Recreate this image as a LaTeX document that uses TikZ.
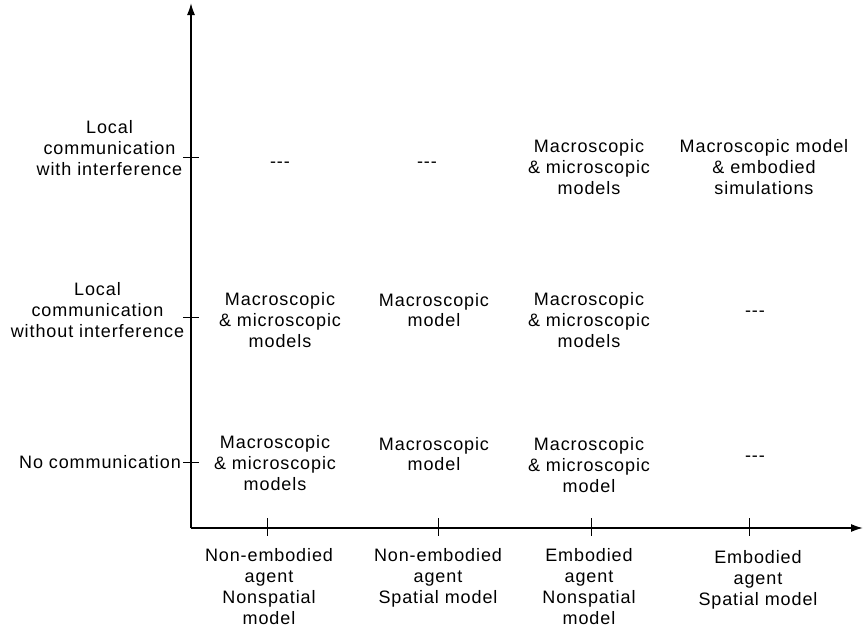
\documentclass[tikz,border=0pt]{standalone}
\usepackage{fontspec}
\setmainfont[LetterSpace=5]{Liberation Sans}
\usetikzlibrary{arrows.meta}
\begin{document}
\begin{tikzpicture}[x=1pt,y=-1pt,
  axis/.style={line width=1.6pt,-{Latex[length=12pt,width=8pt]}},
  tick/.style={line width=1pt},
  cell/.style={align=center,inner sep=0pt,font=\fontsize{18}{20.8}\selectfont},
  lab/.style={cell}]
\useasboundingbox (0,0) rectangle (863,630);
% axes
\coordinate (O) at (191,528);
\coordinate (Ytop) at (191,3);
\coordinate (Xend) at (863,528);
\draw[axis] (O) -- (Ytop);
\draw[axis] (O) -- (Xend);
% y ticks
\foreach \n/\y in {t1/157,t2/317,t3/462}{
  \coordinate (\n a) at (183,\y);
  \coordinate (\n b) at (199,\y);
  \draw[tick] (\n a) -- (\n b);
}
% x ticks
\foreach \n/\x in {u1/267,u2/438,u3/591,u4/749}{
  \coordinate (\n a) at (\x,518);
  \coordinate (\n b) at (\x,536);
  \draw[tick] (\n a) -- (\n b);
}
% row labels
\node[lab] (r1) at (109.5,148) {Local\\communication\\with interference};
\node[lab] (r2) at (97.5,310) {Local\\communication\\without interference};
\node[lab,anchor=east] (r3) at (181,462) {No communication};
% column labels
\node[lab,anchor=north] (k1) at (269,548.5) {Non-embodied\\agent\\Nonspatial\\model};
\node[lab,anchor=north] (k2) at (438,548.5) {Non-embodied\\agent\\Spatial model};
\node[lab,anchor=north] (k3) at (589,548.5) {Embodied\\agent\\Nonspatial\\model};
\node[lab,anchor=north] (k4) at (758,550.5) {Embodied\\agent\\Spatial model};
% cells: top row
\node[cell] (c11) at (280,164.5) {-{}-{}-};
\node[cell] (c12) at (427,164.5) {-{}-{}-};
\node[cell] (c13) at (589,167) {Macroscopic\\\& microscopic\\models};
\node[cell] (c14) at (764,167) {Macroscopic model\\\& embodied\\simulations};
% cells: middle row
\node[cell] (c21) at (280,320) {Macroscopic\\\& microscopic\\models};
\node[cell] (c22) at (434,310) {Macroscopic\\model};
\node[cell] (c23) at (589,320) {Macroscopic\\\& microscopic\\models};
\node[cell] (c24) at (755,313.5) {-{}-{}-};
% cells: bottom row
\node[cell] (c31) at (275,463) {Macroscopic\\\& microscopic\\models};
\node[cell] (c32) at (434,454) {Macroscopic\\model};
\node[cell] (c33) at (589,465) {Macroscopic\\\& microscopic\\model};
\node[cell] (c34) at (755,458.5) {-{}-{}-};
\end{tikzpicture}
\end{document}
